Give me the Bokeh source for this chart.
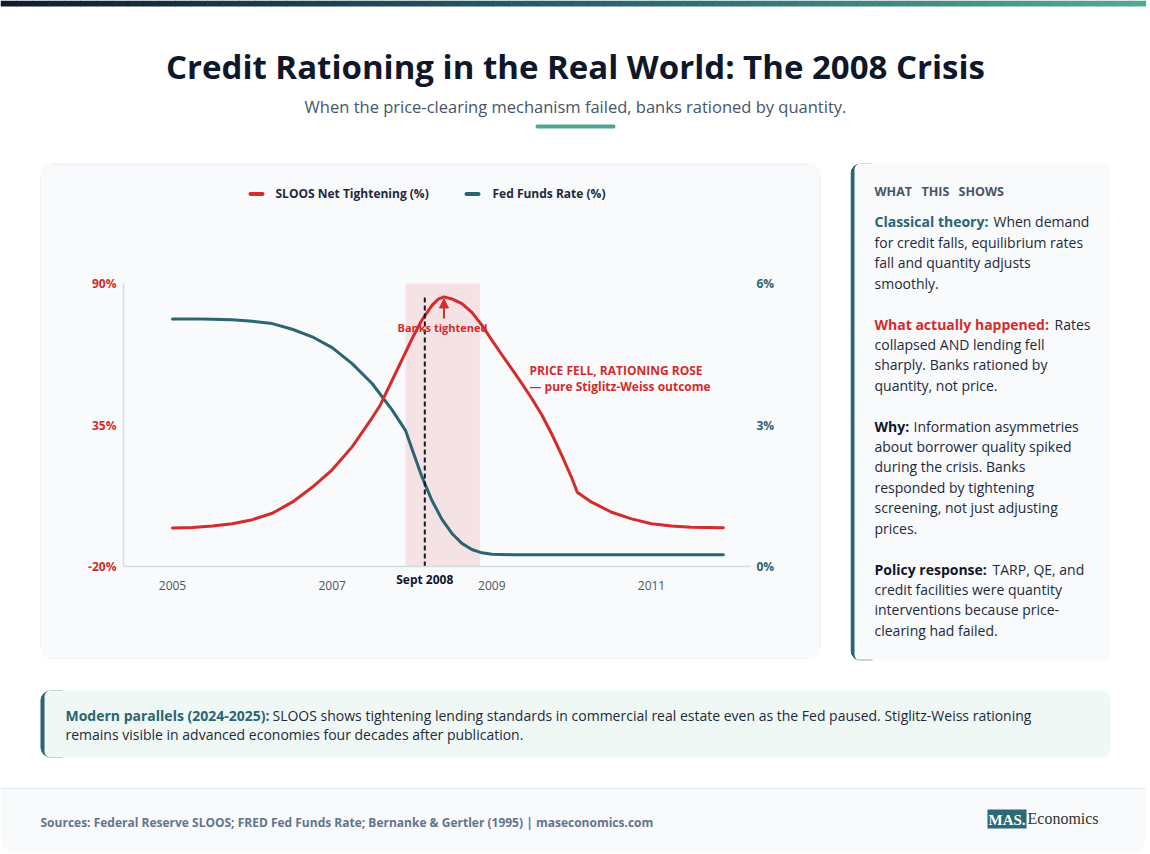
import math
from bokeh.plotting import figure
from bokeh.layouts import column, row
from bokeh.models import (Range1d, LinearAxis, FixedTicker, PrintfTickFormatter, CustomJSTickFormatter,
                          BoxAnnotation, Label, Arrow, NormalHead)
from bokeh.embed import file_html
from bokeh.resources import INLINE

# ---------------- data ----------------
sloos_years = [2005.0, 2005.25, 2005.5, 2005.75, 2006.0, 2006.25, 2006.5, 2006.75,
               2007.0, 2007.25, 2007.5, 2007.6, 2007.75, 2008.0, 2008.12, 2008.25,
               2008.33, 2008.4, 2008.5, 2008.625, 2008.75, 2008.875, 2009.0, 2009.125,
               2009.25, 2009.375, 2009.5, 2009.625, 2009.75, 2009.875, 2010.0, 2010.07,
               2010.25, 2010.5, 2010.75, 2011.0, 2011.25, 2011.5, 2011.9]
sloos_vals = [-5.0, -4.8, -4.3, -3.4, -1.8, 0.7, 5.0, 10.8,
              17.6, 26.5, 37.8, 42.6, 52.3, 68.5, 75.6, 81.5,
              83.9, 84.8, 84.0, 82.2, 78.8, 73.8, 68.0, 62.3,
              56.8, 51.2, 45.3, 39.0, 31.5, 23.3, 14.5, 8.9,
              5.0, 1.1, -1.5, -3.4, -4.3, -4.7, -4.9]

fed_years = [2005.0, 2005.25, 2005.5, 2005.75, 2006.0, 2006.25, 2006.5, 2006.75,
             2007.0, 2007.25, 2007.5, 2007.75, 2007.92, 2008.0, 2008.125, 2008.25,
             2008.375, 2008.5, 2008.625, 2008.75, 2008.875, 2009.0, 2009.25, 2010.0,
             2011.0, 2011.9]
fed_vals = [5.25, 5.25, 5.24, 5.23, 5.2, 5.15, 5.03, 4.87,
            4.64, 4.30, 3.88, 3.32, 2.88, 2.49, 1.90, 1.40,
            1.00, 0.70, 0.49, 0.36, 0.29, 0.26, 0.25, 0.25,
            0.25, 0.25]

year_ticks = [2005, 2007, 2009, 2011]
sloos_ticks = [-20, 35, 90]
rate_ticks = [0, 3, 6]
sloos_range = (-20, 90)
rate_range = (0, 6)
year_range = (2004.386, 2012.240)

crisis_window = (2007.92, 2008.85)
crisis_year = 2008.16
crisis_top = 85.3
crisis_label = "Sept 2008"
peak_year = 2008.4
peak_val = 84.8
arrow_from = 76.4

series_names = ["SLOOS Net Tightening (%)", "Fed Funds Rate (%)"]

# ---------------- styles ----------------
RED = "#d42b2b"
TEAL = "#2b6473"
DARK = "#0f172a"
BODY = "#1e293b"
GREY = "#475569"
CARD = "#f8fafc"
EDGE = "#e2e8f0"
FONT = "Open Sans"

W, H = 1150, 854
FL, FT, FR, FB = 123, 283, 750, 566          # plot frame in page pixels
CX0, CX1, CY0, CY1 = 41, 819, 230, 610        # chart figure region in page pixels

# ---------------- chart figure ----------------
p = figure(width=CX1 - CX0, height=CY1 - CY0, x_range=Range1d(*year_range), y_range=Range1d(*sloos_range),
           output_backend="svg", toolbar_location=None, x_axis_location=None, y_axis_location=None,
           min_border_left=FL - CX0, min_border_right=CX1 - FR, min_border_top=FT - CY0,
           min_border_bottom=CY1 - FB, frame_align=False,
           background_fill_color=CARD, border_fill_color=CARD, outline_line_color=None)
p.extra_y_ranges = {"rate": Range1d(*rate_range)}
p.grid.visible = False


def style_axis(ax, color, size="12px", bold=False, standoff=6, line=None):
    ax.axis_line_color = line
    ax.axis_line_width = 1.5
    ax.major_tick_line_color = None
    ax.minor_tick_line_color = None
    ax.major_tick_out = 0
    ax.major_tick_in = 0
    ax.major_label_standoff = standoff
    ax.major_label_text_font = FONT
    ax.major_label_text_font_size = size
    ax.major_label_text_font_style = "bold" if bold else "normal"
    ax.major_label_text_color = color


sept_axis = LinearAxis(ticker=FixedTicker(ticks=[crisis_year]),
                       formatter=CustomJSTickFormatter(args=dict(lbl=crisis_label), code="return lbl"))
style_axis(sept_axis, DARK, bold=True, standoff=4, line="#d5dbe3")
p.add_layout(sept_axis, "below")

year_axis = LinearAxis(ticker=FixedTicker(ticks=year_ticks), formatter=PrintfTickFormatter(format="%d"))
style_axis(year_axis, "#4b5563", standoff=-10, line=None)
p.add_layout(year_axis, "below")

left_axis = LinearAxis(ticker=FixedTicker(ticks=sloos_ticks), formatter=PrintfTickFormatter(format="%d%%"))
style_axis(left_axis, RED, bold=True, standoff=7, line="#d5dbe3")
p.add_layout(left_axis, "left")

rate_axis = LinearAxis(y_range_name="rate", ticker=FixedTicker(ticks=rate_ticks),
                       formatter=PrintfTickFormatter(format="%d%%"))
style_axis(rate_axis, TEAL, bold=True, standoff=6, line=None)
p.add_layout(rate_axis, "right")

p.add_layout(BoxAnnotation(left=crisis_window[0], right=crisis_window[1], fill_color="#dc2626",
                           fill_alpha=0.11, line_color=None, level="underlay"))

p.line(fed_years, fed_vals, y_range_name="rate", line_color=TEAL, line_width=3,
       line_join="round", line_cap="round")
p.line(sloos_years, sloos_vals, line_color=RED, line_width=3,
       line_join="round", line_cap="round")
p.segment(x0=[crisis_year], y0=[sloos_range[0]], x1=[crisis_year], y1=[crisis_top],
          line_color="#111827", line_width=2, line_dash="5 3")
p.add_layout(Arrow(end=NormalHead(size=9, fill_color=RED, line_color=RED, line_width=1),
                   x_start=peak_year, y_start=arrow_from, x_end=peak_year, y_end=peak_val - 0.8,
                   line_color=RED, line_width=2))


def flabel(x, y, s, size, color, align):
    p.add_layout(Label(x=x - FL, y=FB - y, x_units="screen", y_units="screen", text=s,
                       text_font=FONT, text_font_size=f"{size}px", text_color=color,
                       text_font_style="bold", text_align=align, text_baseline="middle"))


flabel(442, 327, "Banks tightened", 11, RED, "center")
flabel(529, 370, "PRICE FELL, RATIONING ROSE", 12, RED, "left")
flabel(529, 386, "\u2014 pure Stiglitz-Weiss outcome", 12, RED, "left")

# ---------------- decoration figures (page pixel coordinates) ----------------
regions = {
    "header": (0, 1150, 0, 163),
    "leftpad": (0, CX0, 163, 659),
    "legend": (CX0, CX1, 163, CY0),
    "cbot": (CX0, CX1, CY1, 659),
    "gap": (CX1, 850, 163, 659),
    "side": (850, 1150, 163, 659),
    "bottom": (0, 1150, 659, 854),
}
figs = {}
for name, (x0, x1, y0, y1) in regions.items():
    bg = CARD if name in ("legend", "cbot") else "white"
    f = figure(width=x1 - x0, height=y1 - y0, x_range=Range1d(x0, x1), y_range=Range1d(-y1, -y0),
               output_backend="svg", toolbar_location=None, x_axis_location=None, y_axis_location=None,
               min_border=0, frame_align=False, background_fill_color=bg, border_fill_color=bg,
               outline_line_color=None)
    f.grid.visible = False
    figs[name] = f


def hits(x0, y0, x1, y1):
    for name, (rx0, rx1, ry0, ry1) in regions.items():
        if x1 <= rx0 or x0 >= rx1 or y1 <= ry0 or y0 >= ry1:
            continue
        yield figs[name]


def box(x0, y0, x1, y1, color, radius=0):
    for f in hits(x0, y0, x1, y1):
        f.add_layout(BoxAnnotation(left=x0, right=x1, top=-y0, bottom=-y1,
                                   fill_color=color, fill_alpha=1, line_color=None,
                                   border_radius=radius))


def corner(cx, cy, r, a0, a1, color):
    for f in hits(cx - r - 1, cy - r - 1, cx + r + 1, cy + r + 1):
        f.arc(x=[cx], y=[-cy], radius=r, start_angle=a0, end_angle=a1,
              line_color=color, line_width=1)


def txt(x, y, s, size, color, bold=False, align="left", font=FONT):
    for name, (rx0, rx1, ry0, ry1) in regions.items():
        if rx0 <= x < rx1 and ry0 <= y < ry1:
            figs[name].add_layout(Label(x=x, y=-y, text=s, text_font=font, text_font_size=f"{size}px",
                                        text_color=color, text_font_style="bold" if bold else "normal",
                                        text_align=align, text_baseline="middle"))
            return


# chart card: white behind rounded corners, fill, then 1px edges and corner arcs
box(0, 150, 1150, 178, "white")
box(0, 644, 1150, 672, "white")
box(40, 163, 820, 659, CARD, radius=12)
R = 12
box(40 + R, 163, 820 - R, 164, EDGE)
box(40 + R, 658, 820 - R, 659, EDGE)
box(40, 163 + R, 41, 659 - R, EDGE)
box(819, 163 + R, 820, 659 - R, EDGE)
corner(40.5 + R, 163.5 + R, R, math.pi / 2, math.pi, EDGE)
corner(819.5 - R, 163.5 + R, R, 0, math.pi / 2, EDGE)
corner(819.5 - R, 658.5 - R, R, -math.pi / 2, 0, EDGE)
corner(40.5 + R, 658.5 - R, R, math.pi, 1.5 * math.pi, EDGE)

# top gradient bar
stops = [(0.0, (15, 27, 45)), (0.5, (38, 96, 108)), (1.0, (82, 170, 148))]


def grad(t):
    for (t0, c0), (t1, c1) in zip(stops[:-1], stops[1:]):
        if t <= t1:
            fr = (t - t0) / (t1 - t0)
            return "#%02x%02x%02x" % tuple(int(round(a + (b - a) * fr)) for a, b in zip(c0, c1))
    return "#%02x%02x%02x" % stops[-1][1]


n = 72
bw = 1145 / n
for i in range(n):
    box(i * bw, 0, (i + 1) * bw + 0.6, 6, grad((i + 0.5) / n))

# title and subtitle
txt(575, 66, "Credit Rationing in the Real World: The 2008 Crisis", 33, DARK, bold=True, align="center")
txt(575, 106, "When the price-clearing mechanism failed, banks rationed by quantity.", 16.5, GREY, align="center")
box(535, 124, 615, 128, "#4fa58f", radius=2)

# legend
box(248, 191.5, 264, 195.5, RED, radius=2)
txt(275, 193, series_names[0], 12, BODY, bold=True)
box(464, 191.5, 480, 195.5, TEAL, radius=2)
txt(492, 193, series_names[1], 12, BODY, bold=True)

# side panel
box(850, 163, 872, 660, TEAL, radius=(10, 0, 0, 10))
box(854, 163, 1110, 660, CARD, radius=(6, 10, 10, 6))
for wx, word in [(874, "WHAT"), (921, "THIS"), (958, "SHOWS")]:
    txt(wx, 191, word, 12.5, GREY, bold=True)

panel = [
    (221, "Classical theory:", TEAL, 993, "When demand"),
    (242, None, None, None, "for credit falls, equilibrium rates"),
    (262, None, None, None, "fall and quantity adjusts"),
    (283, None, None, None, "smoothly."),
    (324, "What actually happened:", RED, 1054, "Rates"),
    (344, None, None, None, "collapsed AND lending fell"),
    (364, None, None, None, "sharply. Banks rationed by"),
    (385, None, None, None, "quantity, not price."),
    (426, "Why:", DARK, 913, "Information asymmetries"),
    (446, None, None, None, "about borrower quality spiked"),
    (466, None, None, None, "during the crisis. Banks"),
    (487, None, None, None, "responded by tightening"),
    (507, None, None, None, "screening, not just adjusting"),
    (528, None, None, None, "prices."),
    (569, "Policy response:", DARK, 992, "TARP, QE, and"),
    (589, None, None, None, "credit facilities were quantity"),
    (609, None, None, None, "interventions because price-"),
    (630, None, None, None, "clearing had failed."),
]
for y, head, hc, x2, rest in panel:
    if head:
        txt(874, y, head, 14, hc, bold=True)
        txt(x2, y, rest, 14, BODY)
    else:
        txt(874, y, rest, 14, BODY)

# bottom note
box(40, 690, 62, 757, TEAL, radius=(10, 0, 0, 10))
box(44, 690, 1110, 757, "#eff8f4", radius=(6, 10, 10, 6))
txt(65, 715, "Modern parallels (2024-2025):", 14, TEAL, bold=True)
txt(272, 715, "SLOOS shows tightening lending standards in commercial real estate even as the Fed paused. Stiglitz-Weiss rationing", 14, BODY)
txt(65, 734, "remains visible in advanced economies four decades after publication.", 14, BODY)

# footer
box(0, 788, 1145, 852, CARD, radius=(0, 0, 14, 14))
box(0, 787.5, 1145, 788.5, EDGE)
txt(40, 822, "Sources: Federal Reserve SLOOS; FRED Fed Funds Rate; Bernanke & Gertler (1995) | maseconomics.com", 12, "#64748b", bold=True)
box(987, 809, 1026, 828, "#2b6878")
txt(988, 819, "MAS.", 15, "white", bold=True, font="Liberation Serif")
txt(1027, 818, "Economics", 16, "#333333", font="Liberation Serif")

card_col = column(figs["legend"], p, figs["cbot"], styles={"background-color": CARD})
page = column(
    figs["header"],
    row(figs["leftpad"], card_col, figs["gap"], figs["side"]),
    figs["bottom"],
)

open("out.html", "w").write(file_html(page, INLINE))
